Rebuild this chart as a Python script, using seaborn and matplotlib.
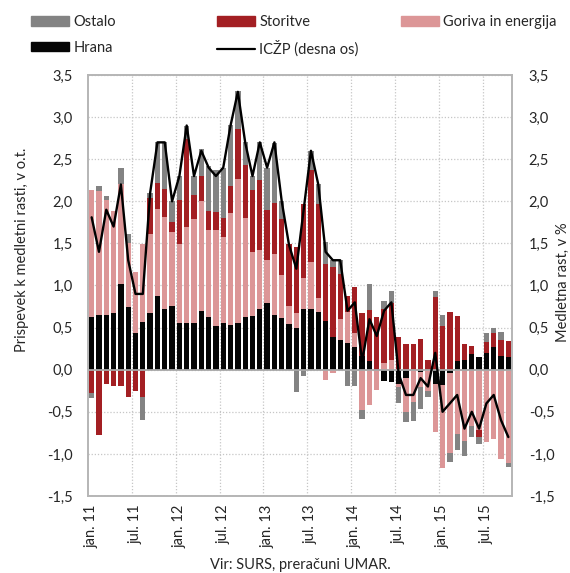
import numpy as np
import pandas as pd
import seaborn as sns
from matplotlib import pyplot as plt
from matplotlib.patches import Patch
from matplotlib.lines import Line2D

# monthly data jan 2011 - okt 2015, contributions in p.p.
hrana = [0.62, 0.645, 0.645, 0.67, 1.02, 0.74, 0.43, 0.565, 0.67, 0.88,
         0.72, 0.755, 0.56, 0.56, 0.56, 0.70, 0.625, 0.52, 0.56, 0.53,
         0.56, 0.625, 0.64, 0.715, 0.79, 0.65, 0.61, 0.54, 0.50, 0.72,
         0.72, 0.69, 0.58, 0.39, 0.35, 0.32, 0.27, 0.16, 0.10, 0.0,
         -0.13, -0.15, -0.17, -0.10, 0.0, -0.03, 0.0, -0.17, -0.185, -0.04,
         0.10, 0.12, 0.19, 0.15, 0.20, 0.27, 0.16, 0.15]
goriva = [1.52, 1.48, 1.375, 1.22, 1.19, 0.77, 0.73, 0.925, 0.94, 1.03,
          1.09, 0.88, 0.93, 1.14, 1.23, 1.30, 1.04, 1.14, 1.02, 1.33,
          1.70, 1.175, 0.76, 0.705, 0.51, 0.73, 0.515, 0.215, 0.17, 0.365,
          0.56, 0.165, -0.125, -0.04, 0.25, 0.365, 0.16, -0.48, -0.42, -0.245,
          0.08, 0.115, -0.03, -0.40, -0.38, -0.17, -0.25, -0.565, -0.98, -0.945,
          -0.76, -0.85, -0.67, -0.72, -0.86, -0.82, -1.065, -1.11]
storitve = [-0.28, -0.78, -0.165, -0.195, -0.195, -0.325, -0.255, -0.325, 0.43, 0.31,
            0.34, 0.12, 0.53, 1.04, 0.29, 0.30, 0.22, 0.215, 0.22, 0.32,
            0.60, 0.63, 0.73, 0.83, 0.60, 0.60, 0.665, 0.735, 0.79, 0.885,
            1.09, 1.11, 0.675, 0.83, 0.54, 0.195, 0.555, 0.51, 0.61, 0.63,
            0.64, 0.68, 0.39, 0.30, 0.30, 0.36, 0.115, 0.86, 0.52, 0.685,
            0.54, 0.18, 0.09, -0.085, 0.125, 0.16, 0.19, 0.19]
ostalo = [-0.06, 0.055, 0.045, 0.0, 0.18, 0.10, 0.0, -0.275, 0.06, 0.49,
          0.56, 0.245, 0.28, 0.16, 0.22, 0.32, 0.53, 0.50, 0.60, 0.73,
          0.445, 0.27, 0.17, 0.45, 0.50, 0.71, 0.21, 0.0, -0.27, -0.08,
          0.23, 0.24, 0.26, 0.085, 0.16, -0.19, -0.19, -0.10, 0.31, 0.0,
          0.10, 0.14, -0.20, -0.12, -0.23, -0.27, -0.08, 0.07, 0.13, -0.115,
          -0.19, -0.17, -0.13, -0.075, 0.115, 0.07, 0.095, -0.045]
iczp = [1.81, 1.40, 1.90, 1.70, 2.20, 1.30, 0.90, 0.90, 2.10, 2.70,
        2.70, 2.00, 2.30, 2.90, 2.30, 2.60, 2.40, 2.30, 2.40, 2.90,
        3.30, 2.70, 2.30, 2.70, 2.40, 2.70, 2.00, 1.48, 1.20, 1.90,
        2.60, 2.20, 1.40, 1.30, 1.30, 0.70, 0.80, 0.10, 0.60, 0.40,
        0.70, 0.80, -0.05, -0.30, -0.30, -0.10, -0.20, 0.20, -0.50, -0.40,
        -0.30, -0.70, -0.50, -0.70, -0.40, -0.30, -0.60, -0.80]
tick_labels = ["jan. 11", "jul. 11", "jan. 12", "jul. 12", "jan. 13",
               "jul. 13", "jan. 14", "jul. 14", "jan. 15", "jul. 15"]

series = ["Hrana", "Goriva in energija", "Storitve", "Ostalo"]
colors = {"Hrana": "#050505", "Goriva in energija": "#dc9697",
          "Storitve": "#a31f23", "Ostalo": "#838383"}

sns.set_theme(style="white")
plt.rcParams['font.family'] = ['Lato', 'DejaVu Sans']

n = len(hrana)
df = pd.DataFrame({"mesec": np.arange(n), "Hrana": hrana,
                   "Goriva in energija": goriva, "Storitve": storitve,
                   "Ostalo": ostalo, "ICZP": iczp})

# stacked bars: positive and negative parts stacked separately
pos = df[series].clip(lower=0).cumsum(axis=1)
neg = df[series].clip(upper=0).cumsum(axis=1)

fig, ax = plt.subplots(figsize=(5.7, 5.73), dpi=100)
fig.subplots_adjust(left=88/570, right=512/570, top=1-75/573, bottom=1-496/573)

for s in reversed(series):
    for part in (pos, neg):
        sns.barplot(x=df["mesec"], y=part[s], native_scale=True, width=0.73,
                    color=colors[s], saturation=1, linewidth=0,
                    errorbar=None, ax=ax, zorder=2)

ax.axhline(0, color="#a8a8a8", lw=1.3, zorder=3)
ax.set_xlim(-0.5, n - 0.5)
ax.set_ylim(-1.5, 3.5)
yt = np.arange(-1.5, 3.51, 0.5)
ylab = [f"{v:.1f}".replace(".", ",") for v in yt]
ax.set_yticks(yt)
ax.set_yticklabels(ylab, fontsize=10.5)
ax.set_xticks(np.arange(0, n, 6))
ax.set_xticklabels(tick_labels, rotation=90, fontsize=10.5)
ax.set_xticks(np.arange(5.5, n, 6), minor=True)
ax.set_xlabel("")
ax.set_ylabel("")
ax.yaxis.grid(True, linestyle=(0, (1, 1.5)), color="#c6c6c6", lw=0.9)
ax.xaxis.grid(True, which="minor", linestyle=(0, (1, 1.5)), color="#c6c6c6", lw=0.9)
ax.set_axisbelow(True)
ax.tick_params(axis="y", length=0, pad=11)
ax.tick_params(axis="x", which="both", length=0, pad=6)

ax2 = ax.twinx()
sns.lineplot(x=df["mesec"], y=df["ICZP"], color="black", lw=1.7, ax=ax2)
ax2.set_ylim(-1.5, 3.5)
ax2.set_yticks(yt)
ax2.set_yticklabels(ylab, fontsize=10.5)
ax2.set_ylabel("")
ax2.tick_params(axis="y", length=0, pad=12)

for a in (ax, ax2):
    for sp in a.spines.values():
        sp.set_color("#b5b5b5")
        sp.set_linewidth(1.2)

fig.text(22/570, 1-250/573, "Prispevek k medletni rasti, v o.t.", rotation=90,
         ha="center", va="center", fontsize=10.5)
fig.text(563/570, 1-282/573, "Medletna rast, v %", rotation=90,
         ha="center", va="center", fontsize=10.5)
fig.text(300/570, 1-565/573, "Vir: SURS, preračuni UMAR.", ha="center",
         va="center", fontsize=10.5)

# legend in three columns
leg_cols = [
    ([Patch(color=colors["Ostalo"]), Patch(color=colors["Hrana"])], ["Ostalo", "Hrana"], 31),
    ([Patch(color=colors["Storitve"]), Line2D([], [], color="black", lw=1.6)],
     ["Storitve", "ICŽP (desna os)"], 217),
    ([Patch(color=colors["Goriva in energija"])], ["Goriva in energija"], 401),
]
for handles, labels, x0 in leg_cols:
    fig.legend(handles, labels, loc="upper left", bbox_to_anchor=(x0/570, 1-15/573),
               frameon=False, borderpad=0, borderaxespad=0, handletextpad=0.3,
               handlelength=2.6, handleheight=0.65, labelspacing=0.8, fontsize=10.5)

fig.savefig("out.png", dpi=100)
